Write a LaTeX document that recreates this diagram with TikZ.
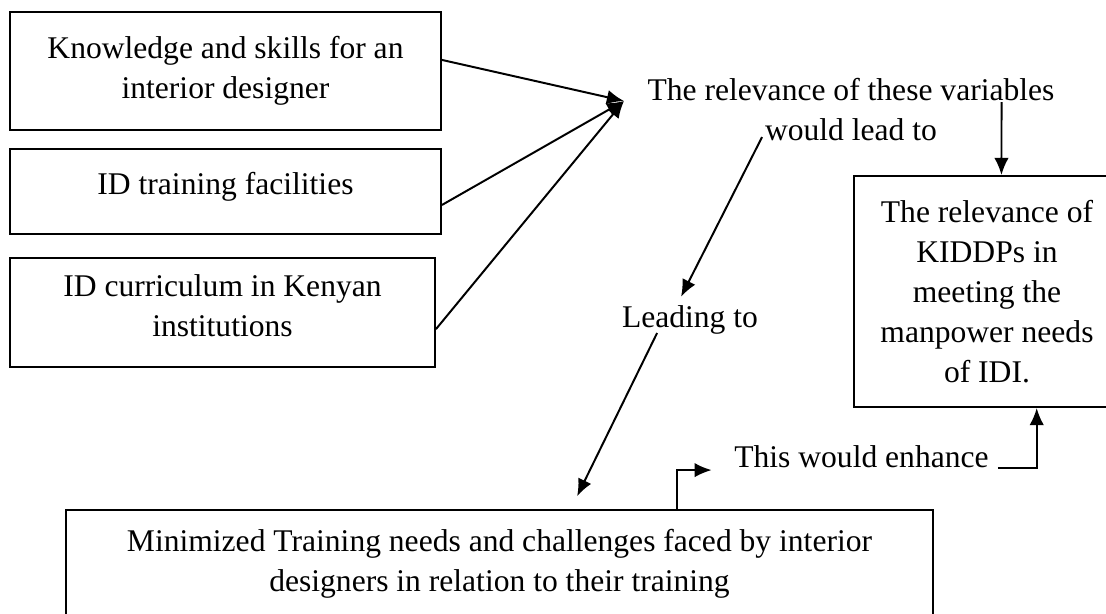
\documentclass[tikz,border=0pt]{standalone}
\usepackage{fontspec}
\setmainfont{Liberation Serif}
\usepackage{tikz}
\usetikzlibrary{arrows.meta,positioning,calc}
\tikzset{
  fw/box/.style={draw, line width=0.75pt, align=center, inner sep=3pt},
  fw/phrase/.style={align=center},
  fw/arr/.style={-{Latex[length=6.5pt,width=5.5pt]}, line width=0.75pt}
}

\begin{document}
\begin{tikzpicture}[x=0.38pt, y=-0.38pt, font=\fontsize{12}{15.2}\selectfont]
\useasboundingbox (0,0) rectangle (1106,614);
\clip (0,0) rectangle (1106,614);
% variables on the left
\node[fw/box, minimum width=163.8pt, minimum height=44.8pt] (knowledge) at (225.5,71) {Knowledge and skills for an\\interior designer};
\node[fw/box, minimum width=163.8pt, minimum height=32.3pt, text depth=6.4pt, below=6.5pt of knowledge] (facilities) {ID training facilities};
\node[fw/box, minimum width=161.5pt, minimum height=41.4pt, text depth=5pt, below=8.4pt of facilities.south west, anchor=north west] (curriculum) {ID curriculum in Kenyan\\institutions};
% outcome boxes
\node[fw/box, minimum width=101pt, minimum height=87.8pt] (kiddp) at (987,291.5) {The relevance of\\KIDDPs in\\meeting the\\manpower needs\\of IDI.};
\node[fw/box, minimum width=329.5pt, minimum height=41pt] (training) at (499.5,564) {Minimized Training needs and challenges faced by interior\\designers in relation to their training};
% linking phrases
\node[fw/phrase] (vars) at (851,110) {The relevance of these variables\\would lead to};
\node[fw/phrase, anchor=base] (leading) at (690,328) {Leading to};
\node[fw/phrase, anchor=base] (enhance) at (861.5,468) {This would enhance};
\coordinate (hub) at (624,101);
% connectors
\draw[fw/arr] ([yshift=4.2pt]knowledge.east) -- (hub);
\draw[fw/arr] ([yshift=-5.1pt]facilities.east) -- (hub);
\draw[fw/arr] ([yshift=-6.3pt]curriculum.east) -- (hub);
\draw[fw/arr] ([xshift=-33.8pt,yshift=-10.3pt]vars.center) -- ([xshift=-3.4pt]leading.north);
\draw[fw/arr] ([xshift=-12.5pt,yshift=-1.9pt]leading.base) -- ([xshift=29.5pt,yshift=4.9pt]training.north);
\draw[fw/arr] ([xshift=67.3pt]training.north) |- ([xshift=-5.1pt,yshift=-0.8pt]enhance.base west);
\draw[fw/arr] (enhance.base east) -| ([xshift=18.9pt]kiddp.south);
\draw[fw/arr] ([xshift=57.2pt,yshift=3pt]vars.center) -- ([xshift=5.5pt]kiddp.north);
\end{tikzpicture}
\end{document}
